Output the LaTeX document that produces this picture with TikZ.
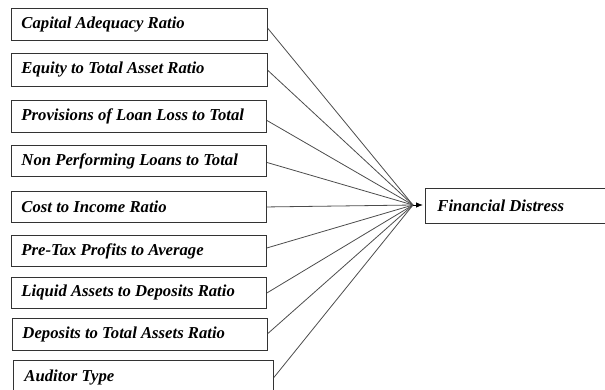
\documentclass[tikz,border=0pt]{standalone}
\usepackage{fontspec}
\setmainfont{Liberation Serif}
\usetikzlibrary{arrows.meta}
\begin{document}
\begin{tikzpicture}[x=1pt,y=-1pt,
  box/.style={draw=black!80, line width=0.9pt, rectangle, anchor=north west,
    inner xsep=10pt, inner ysep=0pt, align=flush left, minimum height=32pt,
    font=\fontsize{16.7}{19}\selectfont\bfseries\itshape, text=black},
  conn/.style={draw=black!70, line width=0.8pt},
  arr/.style={draw=black, line width=0.8pt, -{Latex[length=7pt,width=5.5pt]}}]
\useasboundingbox (0,0) rectangle (605,389);
\clip (0,0) rectangle (605,389);
\node[box, text width=236pt] (b1) at (11,8) {Capital Adequacy Ratio};
\node[box, text width=236pt, minimum height=33pt] (b2) at (11,53) {Equity to Total Asset Ratio};
\node[box, text width=235pt] (b3) at (11,100) {Provisions of Loan Loss to Total};
\node[box, text width=235pt, minimum height=31pt] (b4) at (11,145) {Non Performing Loans to Total};
\node[box, text width=235pt, minimum height=31pt] (b5) at (11,191) {Cost to Income Ratio};
\node[box, text width=235pt, minimum height=31pt] (b6) at (11,235) {Pre-Tax Profits to Average};
\node[box, text width=235pt, minimum height=31pt] (b7) at (11,277) {Liquid Assets to Deposits Ratio};
\node[box, text width=235pt] (b8) at (12,318) {Deposits to Total Assets Ratio};
\node[box, text width=238pt, minimum height=34pt, inner xsep=11pt] (b9) at (13,360) {Auditor Type\strut\vphantom{g}};
\node[box, text width=158pt, minimum height=35pt, inner xsep=12pt] (fd) at (425,188) {Financial Distress};
\coordinate (c) at (413,205);
\draw[conn] ([yshift=-4pt]b1.east) -- (c);
\draw[conn] ([yshift=-0.5pt]b2.east) -- (c);
\draw[conn] ([yshift=-4pt]b3.east) -- (c);
\draw[conn] ([yshift=-1.5pt]b4.east) -- (c);
\draw[conn] ([yshift=0pt]b5.east) -- (c);
\draw[conn] ([yshift=3pt]b6.east) -- (c);
\draw[conn] ([yshift=0pt]b7.east) -- (c);
\draw[conn] ([yshift=1pt]b8.east) -- (c);
\draw[conn] ([yshift=0pt]b9.east) -- (c);
\draw[arr, shorten >=2pt] (c) -- (fd.west |- c);
\end{tikzpicture}
\end{document}
